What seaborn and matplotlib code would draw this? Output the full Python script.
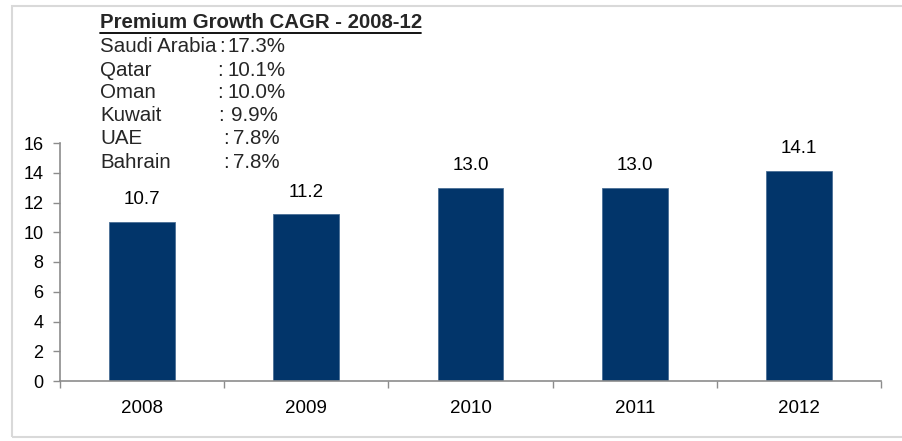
import matplotlib
matplotlib.use("Agg")
import matplotlib.pyplot as plt
import seaborn as sns
import pandas as pd
from matplotlib.patches import Rectangle

years = ["2008", "2009", "2010", "2011", "2012"]
premiums = [10.7, 11.2, 13.0, 13.0, 14.1]
countries = ["Saudi Arabia", "Qatar", "Oman", "Kuwait", "UAE", "Bahrain"]
cagr_values = ["17.3%", "10.1%", "10.0%", "9.9%", "7.8%", "7.8%"]
title_text = "Premium Growth CAGR - 2008-12"

sns.set_theme(style="white")
plt.rcParams["font.family"] = ["Liberation Sans", "DejaVu Sans"]

fig = plt.figure(figsize=(9.02, 4.41), dpi=100)
ax = fig.add_axes([60/902, 1-381/441, (881-60)/902, (381-143)/441])

df = pd.DataFrame({"year": years, "value": premiums})
sns.barplot(data=df, x="year", y="value", color="#02356a", width=0.4,
            edgecolor="#4a6f95", linewidth=0.6, saturation=1, ax=ax)

ax.set_xlim(-0.5, 4.5)
ax.set_ylim(0, 16)
ax.set_yticks(range(0, 17, 2))
ax.set_xlabel("")
ax.set_ylabel("")
for s in ["top", "right"]:
    ax.spines[s].set_visible(False)
for s in ["left", "bottom"]:
    ax.spines[s].set_color("#8c8c8c")
    ax.spines[s].set_linewidth(1.2)

ax.tick_params(axis="y", which="both", left=True, length=5, width=1, color="#8c8c8c",
               labelsize=13, pad=7, labelcolor="black")
ax.tick_params(axis="x", bottom=False, labelsize=13.5, pad=8, labelcolor="black")
ax.set_xticks(range(5))
ax.set_xticklabels(years)
ax.set_xticks([-0.5, 0.5, 1.5, 2.5, 3.5, 4.5], minor=True)
ax.tick_params(axis="x", which="minor", bottom=True, length=5, width=1, color="#8c8c8c")

for i, v in enumerate(premiums):
    ax.annotate(f"{v:.1f}", (i, v), xytext=(0, 10), textcoords="offset points",
                ha="center", va="bottom", fontsize=13.5, color="black")

# text block
fs = 14.8
fig.text(100/902, 1-23/441, title_text, fontsize=14.7, fontweight="bold",
         va="center", ha="left")
fig.add_artist(plt.Line2D([100/902, 421/902], [1-32.5/441, 1-32.5/441],
                          color="black", linewidth=1.3))
colon_x = [219, 217, 217, 218, 223, 223]
value_x = [228, 228, 228, 231, 233, 233]
for k, (c, val) in enumerate(zip(countries, cagr_values)):
    y = 1 - (47 + k*23)/441
    fig.text(100/902, y, c, fontsize=fs, va="center", ha="left")
    fig.text(colon_x[k]/902, y, ":", fontsize=fs, va="center", ha="left")
    fig.text(value_x[k]/902, y, val, fontsize=fs, va="center", ha="left")

fig.add_artist(Rectangle((12/902, 4/441), 1.2, (437-6)/441, transform=fig.transFigure,
                         fill=False, edgecolor="#d9d9d9", linewidth=1.5))

fig.savefig("out.png", dpi=100)
